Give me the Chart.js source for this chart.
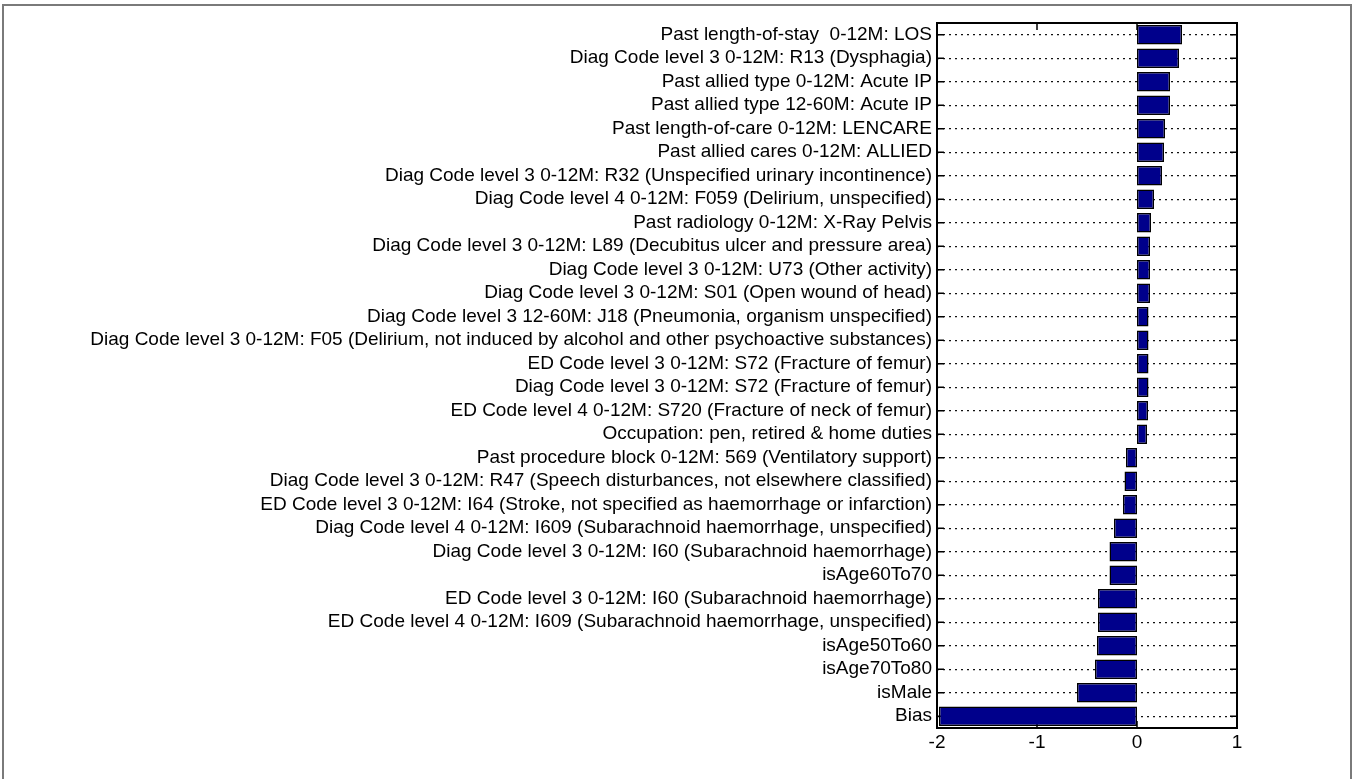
<!DOCTYPE html>
<html>
<head>
<meta charset="utf-8">
<script src="https://cdn.jsdelivr.net/npm/chart.js@4"></script>
<style>
  html, body { margin: 0; padding: 0; background: #fff; overflow: hidden; }
  #wrap { position: relative; width: 1352px; height: 779px; }
  #frame {
    position: absolute; left: 2px; top: 4px; width: 1346px; height: 800px;
    border: 2px solid #7a7a7a; pointer-events: none;
  }
</style>
</head>
<body>
<div id="wrap">
  <canvas id="chart"></canvas>
  <div id="frame"></div>
</div>
<script>
// =========================
// DATA
// =========================

const features = [
    "Past length-of-stay  0-12M: LOS",
    "Diag Code level 3 0-12M: R13 (Dysphagia)",
    "Past allied type 0-12M: Acute IP",
    "Past allied type 12-60M: Acute IP",
    "Past length-of-care 0-12M: LENCARE",
    "Past allied cares 0-12M: ALLIED",
    "Diag Code level 3 0-12M: R32 (Unspecified urinary incontinence)",
    "Diag Code level 4 0-12M: F059 (Delirium, unspecified)",
    "Past radiology 0-12M: X-Ray Pelvis",
    "Diag Code level 3 0-12M: L89 (Decubitus ulcer and pressure area)",
    "Diag Code level 3 0-12M: U73 (Other activity)",
    "Diag Code level 3 0-12M: S01 (Open wound of head)",
    "Diag Code level 3 12-60M: J18 (Pneumonia, organism unspecified)",
    "Diag Code level 3 0-12M: F05 (Delirium, not induced by alcohol and other psychoactive substances)",
    "ED Code level 3 0-12M: S72 (Fracture of femur)",
    "Diag Code level 3 0-12M: S72 (Fracture of femur)",
    "ED Code level 4 0-12M: S720 (Fracture of neck of femur)",
    "Occupation: pen, retired & home duties",
    "Past procedure block 0-12M: 569 (Ventilatory support)",
    "Diag Code level 3 0-12M: R47 (Speech disturbances, not elsewhere classified)",
    "ED Code level 3 0-12M: I64 (Stroke, not specified as haemorrhage or infarction)",
    "Diag Code level 4 0-12M: I609 (Subarachnoid haemorrhage, unspecified)",
    "Diag Code level 3 0-12M: I60 (Subarachnoid haemorrhage)",
    "isAge60To70",
    "ED Code level 3 0-12M: I60 (Subarachnoid haemorrhage)",
    "ED Code level 4 0-12M: I609 (Subarachnoid haemorrhage, unspecified)",
    "isAge50To60",
    "isAge70To80",
    "isMale",
    "Bias"
];

const weights = [
    0.45, 0.42, 0.33, 0.33, 0.28, 0.27, 0.25, 0.17, 0.14, 0.13,
    0.13, 0.13, 0.115, 0.115, 0.115, 0.115, 0.11, 0.10,
    -0.11, -0.125, -0.14, -0.23, -0.275, -0.275, -0.39, -0.39,
    -0.40, -0.42, -0.60, -1.98
];

const xMin = -2;
const xMax = 1;

const fontFamily = "'Liberation Sans', Arial, sans-serif";

// =========================
// BOX + INWARD TICKS
// =========================

const boxTicks = {
    id: "boxTicks",
    beforeDatasetsDraw(chart) {
        const ctx = chart.ctx;
        const a = chart.chartArea;
        const xs = chart.scales.x;
        const ys = chart.scales.y;
        ctx.save();
        ctx.strokeStyle = "#000";
        ctx.lineWidth = 1.5;
        ctx.beginPath();
        ys.ticks.forEach((t, i) => {
            const y = ys.getPixelForTick(i);
            ctx.moveTo(a.left, y); ctx.lineTo(a.left + 7, y);
            ctx.moveTo(a.right, y); ctx.lineTo(a.right - 7, y);
        });
        xs.ticks.forEach((t, i) => {
            const x = xs.getPixelForTick(i);
            ctx.moveTo(x, a.bottom); ctx.lineTo(x, a.bottom - 7);
            ctx.moveTo(x, a.top); ctx.lineTo(x, a.top + 7);
        });
        ctx.stroke();
        ctx.restore();
    },
    afterDatasetsDraw(chart) {
        const ctx = chart.ctx;
        const a = chart.chartArea;
        ctx.save();
        ctx.strokeStyle = "#000";
        ctx.lineWidth = 2;
        ctx.strokeRect(a.left, a.top, a.right - a.left, a.bottom - a.top);
        ctx.restore();
    }
};

// =========================
// CHART
// =========================

new Chart(document.getElementById("chart").getContext("2d"), {
    type: "bar",
    data: {
        labels: features,
        datasets: [{
            data: weights,
            backgroundColor: "#00008B",
            borderColor: "#000",
            borderWidth: 1.5,
            borderSkipped: false,
            barPercentage: 0.82,
            categoryPercentage: 1
        }]
    },
    options: {
        indexAxis: "y",
        responsive: true,
        maintainAspectRatio: false,
        animation: false,
        layout: {
            padding: { left: 0, right: 115, top: 23, bottom: 0 }
        },
        plugins: {
            legend: { display: false },
            tooltip: { enabled: false }
        },
        scales: {
            x: {
                min: xMin,
                max: xMax,
                ticks: {
                    stepSize: 1,
                    color: "#000",
                    padding: 3,
                    font: { family: fontFamily, size: 19 }
                },
                grid: { display: false, drawTicks: false },
                border: { display: false },
                afterFit: s => { s.height = 51; }
            },
            y: {
                ticks: {
                    color: "#000",
                    padding: 5,
                    autoSkip: false,
                    font: { family: fontFamily, size: 19 }
                },
                grid: {
                    color: "#111",
                    lineWidth: 1.3,
                    offset: false,
                    drawTicks: false
                },
                border: { display: false, dash: [2, 4] },
                afterFit: s => { s.width = 937; }
            }
        }
    },
    plugins: [boxTicks]
});
</script>
</body>
</html>
